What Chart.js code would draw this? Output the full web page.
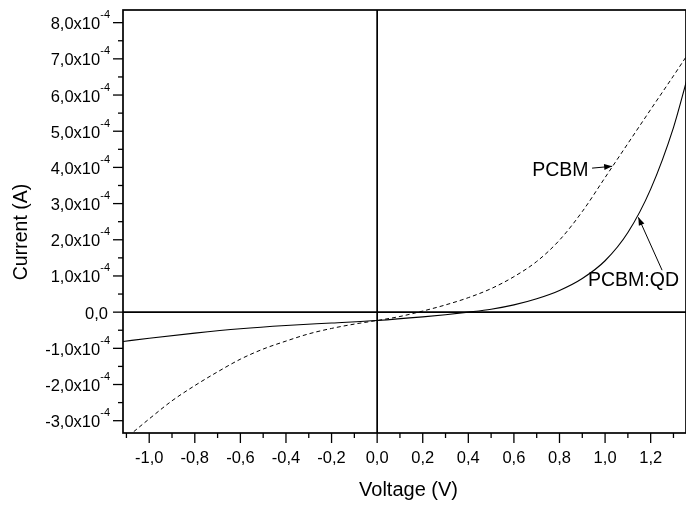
<!DOCTYPE html>
<html>
<head>
<meta charset="utf-8">
<script src="https://cdn.jsdelivr.net/npm/chart.js@4.4.1/dist/chart.umd.min.js"></script>
<style>
html,body{margin:0;padding:0;background:#fff}
</style>
</head>
<body>
<canvas id="ivChart" width="686" height="505"></canvas>
<script>
// I-V curves, current in A
const voltagePCBM = [-1.115,-1.0,-0.9,-0.8,-0.7,-0.6,-0.5,-0.4,-0.3,-0.2,-0.1,0.0,0.1,0.2,0.3,0.4,0.5,0.6,0.7,0.8,0.9,1.0,1.1,1.2,1.3,1.36];
const currentPCBM = [-3.55e-4,-2.95e-4,-2.45e-4,-2.03e-4,-1.65e-4,-1.30e-4,-1.02e-4,-0.80e-4,-0.60e-4,-0.45e-4,-0.33e-4,-0.23e-4,-0.12e-4,0.03e-4,0.20e-4,0.40e-4,0.65e-4,0.98e-4,1.40e-4,1.99e-4,2.78e-4,3.72e-4,4.66e-4,5.60e-4,6.53e-4,7.10e-4];
const voltageQD = [-1.115,-1.0,-0.8,-0.6,-0.4,-0.2,0.0,0.2,0.3,0.4,0.5,0.6,0.7,0.8,0.9,1.0,1.1,1.2,1.3,1.36];
const currentQD = [-0.81e-4,-0.72e-4,-0.58e-4,-0.46e-4,-0.37e-4,-0.30e-4,-0.23e-4,-0.13e-4,-0.07e-4,0.0,0.08e-4,0.20e-4,0.37e-4,0.60e-4,0.93e-4,1.42e-4,2.20e-4,3.40e-4,5.10e-4,6.45e-4];

const xTickValues = [-1.0,-0.8,-0.6,-0.4,-0.2,0.0,0.2,0.4,0.6,0.8,1.0,1.2];
const xTickLabels = ['-1,0','-0,8','-0,6','-0,4','-0,2','0,0','0,2','0,4','0,6','0,8','1,0','1,2'];
const xMinorValues = [-1.1,-0.9,-0.7,-0.5,-0.3,-0.1,0.1,0.3,0.5,0.7,0.9,1.1,1.3];
const yTickValues = [-3e-4,-2e-4,-1e-4,0,1e-4,2e-4,3e-4,4e-4,5e-4,6e-4,7e-4,8e-4];
const yTickLabels = ['-3,0','-2,0','-1,0','0,0','1,0','2,0','3,0','4,0','5,0','6,0','7,0','8,0'];
const yTickExponent = '-4';
const yMinorValues = [-2.5e-4,-1.5e-4,-0.5e-4,0.5e-4,1.5e-4,2.5e-4,3.5e-4,4.5e-4,5.5e-4,6.5e-4,7.5e-4];

const seriesNames = ['PCBM','PCBM:QD'];

function toPoints(vs, is){
    return vs.map((v,k)=>({x:v,y:is[k]}));
}

const FONT = '"Liberation Sans", Arial, sans-serif';

function strokeLine(ctx,x1,y1,x2,y2){
    ctx.beginPath(); ctx.moveTo(x1,y1); ctx.lineTo(x2,y2); ctx.stroke();
}

function arrow(ctx,x1,y1,x2,y2){
    strokeLine(ctx,x1,y1,x2,y2);
    const ang = Math.atan2(y2-y1,x2-x1), len = 8, w = 3;
    ctx.beginPath();
    ctx.moveTo(x2,y2);
    ctx.lineTo(x2-len*Math.cos(ang)+w*Math.sin(ang), y2-len*Math.sin(ang)-w*Math.cos(ang));
    ctx.lineTo(x2-len*Math.cos(ang)-w*Math.sin(ang), y2-len*Math.sin(ang)+w*Math.cos(ang));
    ctx.closePath(); ctx.fill();
}

const axesPlugin = {
    id:'originAxes',
    afterDatasetsDraw(chart){
        const {ctx, chartArea:a, scales:{x,y}} = chart;
        ctx.save();
        ctx.strokeStyle='#000'; ctx.fillStyle='#000';
        ctx.lineWidth=1.7;
        const x0 = x.getPixelForValue(0), y0 = y.getPixelForValue(0);
        strokeLine(ctx,x0,a.top,x0,a.bottom);
        strokeLine(ctx,a.left,y0,a.right,y0);
        ctx.strokeRect(a.left,a.top,a.right-a.left,a.bottom-a.top);

        // ticks
        ctx.lineWidth=1.3;
        xTickValues.forEach(v=>{ const px=x.getPixelForValue(v); strokeLine(ctx,px,a.bottom,px,a.bottom+10); });
        xMinorValues.forEach(v=>{ const px=x.getPixelForValue(v); strokeLine(ctx,px,a.bottom,px,a.bottom+5); });
        yTickValues.forEach(v=>{ const py=y.getPixelForValue(v); strokeLine(ctx,a.left-10,py,a.left,py); });
        yMinorValues.forEach(v=>{ const py=y.getPixelForValue(v); strokeLine(ctx,a.left-5,py,a.left,py); });

        // tick labels
        ctx.font = '16.5px '+FONT;
        ctx.textAlign='center'; ctx.textBaseline='alphabetic';
        xTickValues.forEach((v,k)=>{ ctx.fillText(xTickLabels[k], x.getPixelForValue(v), a.bottom+30); });
        yTickValues.forEach((v,k)=>{
            const py = y.getPixelForValue(v) + 6.5;
            const right = a.left-13;
            if(v===0){
                ctx.font = '16.5px '+FONT; ctx.textAlign='right';
                ctx.fillText(yTickLabels[k], right-2, py);
                return;
            }
            ctx.font = '11px '+FONT; ctx.textAlign='right';
            ctx.fillText(yTickExponent, right, py-11);
            const ew = ctx.measureText(yTickExponent).width;
            ctx.font = '16.5px '+FONT;
            ctx.fillText(yTickLabels[k]+'x10', right-ew, py);
        });

        // axis titles
        ctx.font = '20px '+FONT; ctx.textAlign='center';
        ctx.fillText('Voltage (V)', (a.left+a.right)/2+4, a.bottom+63);
        ctx.save();
        ctx.translate(27, 232);
        ctx.rotate(-Math.PI/2);
        ctx.font = '19.5px '+FONT;
        ctx.fillText('Current (A)', 0, 0);
        ctx.restore();

        // curve labels
        ctx.font = '19.5px '+FONT; ctx.textAlign='left';
        ctx.fillText(seriesNames[0], x.getPixelForValue(0.68), y.getPixelForValue(3.76e-4));
        ctx.lineWidth=1;
        arrow(ctx, x.getPixelForValue(0.943), y.getPixelForValue(3.98e-4), x.getPixelForValue(1.031), y.getPixelForValue(4.03e-4));
        ctx.fillText(seriesNames[1], x.getPixelForValue(0.925), y.getPixelForValue(0.72e-4));
        arrow(ctx, x.getPixelForValue(1.25), y.getPixelForValue(1.16e-4), x.getPixelForValue(1.146), y.getPixelForValue(2.62e-4));
        ctx.restore();
    }
};

new Chart(document.getElementById('ivChart').getContext('2d'), {
    type:'line',
    data:{
        datasets:[
            {label:seriesNames[0], data:toPoints(voltagePCBM,currentPCBM), borderColor:'#000', borderWidth:1, borderDash:[4,3], pointRadius:0, cubicInterpolationMode:'monotone', fill:false},
            {label:seriesNames[1], data:toPoints(voltageQD,currentQD), borderColor:'#000', borderWidth:1.1, pointRadius:0, cubicInterpolationMode:'monotone', fill:false}
        ]
    },
    options:{
        responsive:false,
        animation:false,
        devicePixelRatio:1,
        layout:{padding:{left:123, top:10, right:0, bottom:72}},
        plugins:{legend:{display:false}, tooltip:{enabled:false}},
        scales:{
            x:{type:'linear', min:-1.115, max:1.355, display:false},
            y:{type:'linear', min:-3.34e-4, max:8.35e-4, display:false}
        }
    },
    plugins:[axesPlugin]
});
</script>
</body>
</html>
